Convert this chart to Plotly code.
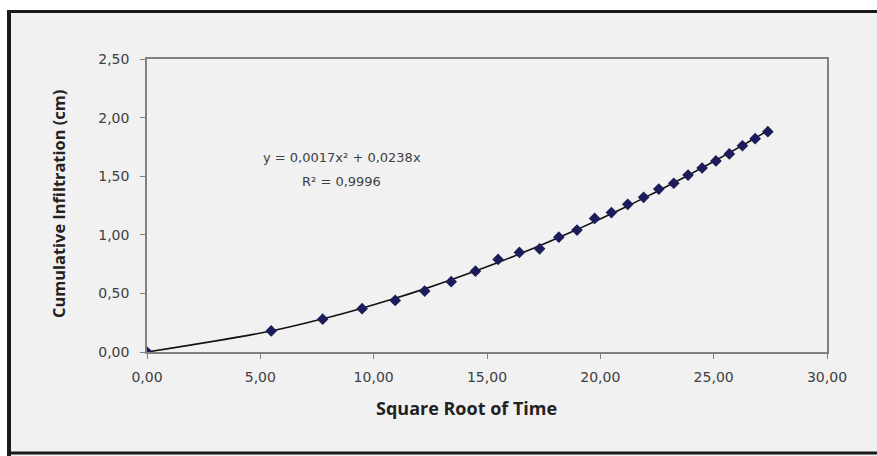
import numpy as np
import plotly.graph_objects as go

# Square root of elapsed time (min^0.5) and cumulative infiltration (cm)
sqrt_time = [0.00, 5.48, 7.75, 9.49, 10.95, 12.25, 13.42, 14.49, 15.49, 16.43,
             17.32, 18.17, 18.97, 19.75, 20.49, 21.21, 21.91, 22.58, 23.24,
             23.87, 24.49, 25.10, 25.69, 26.27, 26.83, 27.39]
infiltration = [0.00, 0.18, 0.28, 0.37, 0.44, 0.52, 0.60, 0.69, 0.79, 0.85,
                0.88, 0.98, 1.04, 1.14, 1.19, 1.26, 1.32, 1.39, 1.44,
                1.51, 1.57, 1.63, 1.69, 1.76, 1.82, 1.88]

x_ticks = [0, 5, 10, 15, 20, 25, 30]
y_ticks = [0, 0.5, 1.0, 1.5, 2.0, 2.5]

equation_text = "y = 0,0017x² + 0,0238x"
r2_text = "R² = 0,9996"

# Second-order polynomial trendline forced through the origin
xa = np.array(sqrt_time)
ya = np.array(infiltration)
A = np.column_stack([xa ** 2, xa])
coef, *_ = np.linalg.lstsq(A, ya, rcond=None)
trend = coef[0] * xa ** 2 + coef[1] * xa

BG = "#f1f1f1"
AXIS = "#808080"
TEXT = "#404040"
TICK_FONT = "DejaVu Sans"
TITLE_FONT = "Open Sans"

fig = go.Figure()
fig.add_trace(go.Scatter(
    x=sqrt_time, y=trend, mode="lines", line=dict(color="#111111", width=1.6, shape="spline"),
    hoverinfo="skip", showlegend=False))
fig.add_trace(go.Scatter(
    x=sqrt_time, y=infiltration, mode="markers",
    marker=dict(symbol="diamond", size=9, color="#1c1c5a"),
    showlegend=False))

# Plot area spans x 147..827 px and y 59..352 px; helpers map pixels to paper units
L, R, T, B = 147, 827, 59, 352
W, H = 877, 456


def px(X):
    return (X - L) / (R - L)


def py(Y):
    return (B - Y) / (B - T)


shapes = [
    # white margin outside the outer frame
    dict(type="rect", xref="paper", yref="paper", x0=px(0), x1=px(W), y0=py(10), y1=py(0),
         fillcolor="white", line=dict(width=0), layer="below"),
    dict(type="rect", xref="paper", yref="paper", x0=px(0), x1=px(7), y0=py(W), y1=py(0),
         fillcolor="white", line=dict(width=0), layer="below"),
    # dark outer frame
    dict(type="line", xref="paper", yref="paper", x0=px(9), x1=px(W), y0=py(11.5), y1=py(11.5),
         line=dict(color="#1a1a1a", width=3)),
    dict(type="line", xref="paper", yref="paper", x0=px(9), x1=px(9), y0=py(10), y1=py(W),
         line=dict(color="#1a1a1a", width=4)),
    dict(type="line", xref="paper", yref="paper", x0=px(9), x1=px(W), y0=py(453), y1=py(453),
         line=dict(color="#1a1a1a", width=3)),
]

fig.update_layout(
    width=W, height=H,
    margin=dict(l=L, r=W - R, t=T, b=H - B),
    paper_bgcolor=BG, plot_bgcolor=BG,
    separators=",.",
    font=dict(family=TICK_FONT, color=TEXT, size=13),
    shapes=shapes,
    annotations=[
        dict(x=px(342), y=py(157), xref="paper", yref="paper", text=equation_text,
             xanchor="center", yanchor="middle",
             showarrow=False, font=dict(size=13, color=TEXT, family=TICK_FONT)),
        dict(x=px(341), y=py(181), xref="paper", yref="paper", text=r2_text,
             xanchor="center", yanchor="middle",
             showarrow=False, font=dict(size=13, color=TEXT, family=TICK_FONT)),
        dict(x=px(466), y=py(408), xref="paper", yref="paper", text="<b>Square Root of Time</b>",
             xanchor="center", yanchor="middle",
             showarrow=False, font=dict(size=18, color="#222222", family=TITLE_FONT)),
        dict(x=px(58), y=py(204), xref="paper", yref="paper",
             text="<b>Cumulative Infiltration (cm)</b>", textangle=-90,
             xanchor="center", yanchor="middle",
             showarrow=False, font=dict(size=16.4, color="#222222", family=TITLE_FONT)),
    ],
    xaxis=dict(
        range=[0, 30], tickvals=x_ticks, tickformat=".2f", showgrid=False, zeroline=False,
        showline=True, linecolor=AXIS, linewidth=1.5, mirror=True,
        ticks="outside", ticklen=5, tickcolor=AXIS, ticklabelstandoff=6,
        tickfont=dict(size=14, color=TEXT, family=TICK_FONT),
    ),
    yaxis=dict(
        range=[0, 2.5], tickvals=y_ticks, tickformat=".2f", showgrid=False, zeroline=False,
        showline=True, linecolor=AXIS, linewidth=1.5, mirror=True,
        ticks="outside", ticklen=5, tickcolor=AXIS, ticklabelstandoff=8,
        tickfont=dict(size=14, color=TEXT, family=TICK_FONT),
    ),
)

fig.write_html("out.html")
